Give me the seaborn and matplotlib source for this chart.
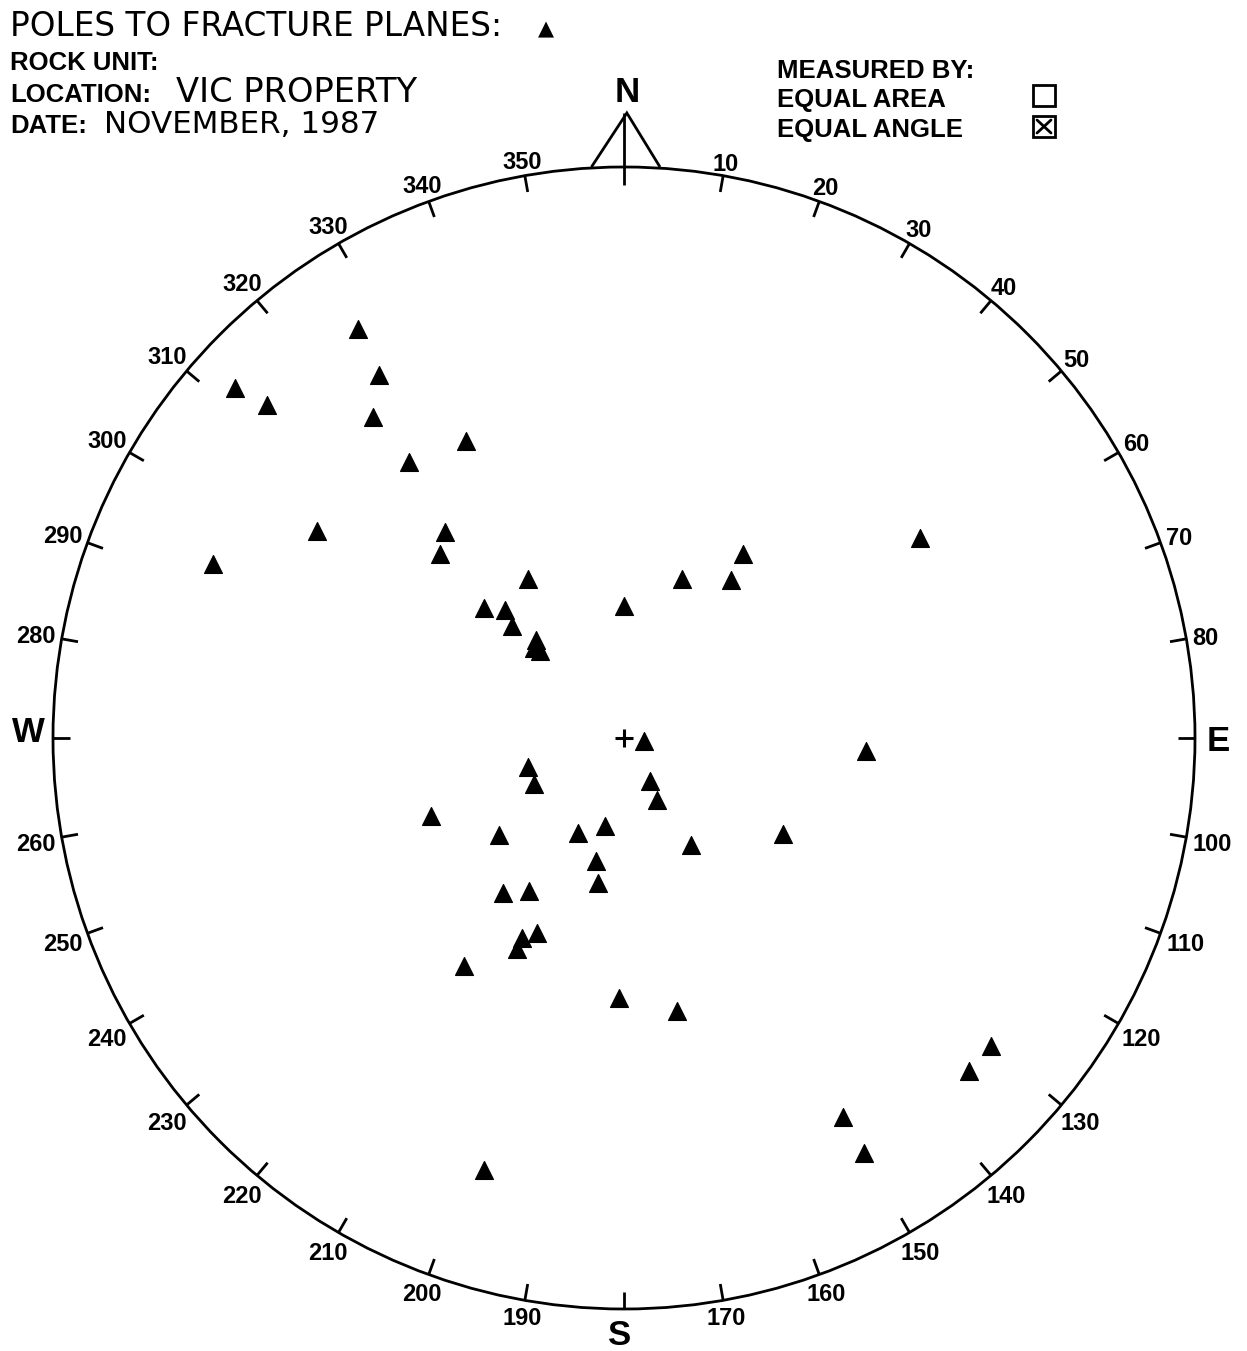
import numpy as np
import pandas as pd
import matplotlib
matplotlib.use("Agg")
import matplotlib.pyplot as plt
import seaborn as sns
from matplotlib.patches import Circle, Polygon, Rectangle
from matplotlib.lines import Line2D

# poles to fracture planes (degrees)
trend = [327, 326, 312, 313, 322, 332, 322, 304, 319, 315,
         293, 329, 20, 56, 33, 34, 313, 317, 315, 0,
         318, 315, 316, 99, 93, 253, 243, 149, 152, 248,
         232, 206, 192, 148, 121, 193, 218, 212, 190, 204,
         207, 207, 215, 181, 169, 198, 130, 134, 150, 150]
plunge = [9, 15, 5, 9, 19, 29, 27, 24, 39, 41,
          14, 54, 57, 26, 48, 53, 53, 56, 59, 64,
          64, 65, 66, 86, 44, 70, 70, 80, 76, 50,
          59, 69, 72, 65, 54, 65, 52, 55, 61, 49,
          47, 45, 38, 41, 38, 13, 10, 10, 15, 10]

azimuths = list(range(0, 360, 10))
compass = {0: "N", 90: "E", 180: "S", 270: "W"}

sns.set_style("white")
plt.rcParams["text.color"] = "black"
BOLD = ["Liberation Sans", "DejaVu Sans"]
THIN = ["DejaVu Sans"]
NARROW = ["Liberation Sans Narrow", "Liberation Sans", "DejaVu Sans"]

# equal angle (stereographic) lower hemisphere projection
df = pd.DataFrame({"trend": trend, "plunge": plunge})
r = np.tan(np.radians(90 - df["plunge"]) / 2)
df["x"] = r * np.sin(np.radians(df["trend"]))
df["y"] = r * np.cos(np.radians(df["trend"]))

W, H = 1247, 1351
cx, cy, R = 624, 738, 571

fig = plt.figure(figsize=(W / 100, H / 100), dpi=100)
ax = fig.add_axes([0, 0, 1, 1])
ax.set_xlim(-cx / R, (W - cx) / R)
ax.set_ylim((cy - H) / R, cy / R)
ax.axis("off")

# primitive circle and ticks
ax.add_patch(Circle((0, 0), 1, fill=False, lw=2.0, color="black"))
tick = 0.029
for az in azimuths:
    a = np.radians(az)
    r0 = 1 - tick - (0.003 if az == 0 else 0)
    r1 = 1.0946 if az == 0 else 1
    ax.plot([r0 * np.sin(a), r1 * np.sin(a)], [r0 * np.cos(a), r1 * np.cos(a)],
            color="black", lw=2.0, solid_capstyle="butt")
    if az in compass:
        continue
    label = str(az)
    half_w = 7 * len(label)
    rl = (R + 4 + half_w * abs(np.sin(a)) + 8 * abs(np.cos(a))) / R
    ax.text(rl * np.sin(a), rl * np.cos(a), label, ha="center",
            va="center_baseline", fontsize=17, fontweight="bold", family=BOLD)

# north arrow
ax.add_patch(Polygon([[-0.057, 1.0], [0.005, 1.0946], [0.063, 1.0]], closed=False,
                     fill=False, lw=2.0, color="black", joinstyle="miter"))

for (tx, ty), letter in zip([(0.005, 1.131), (1.040, -0.007), (-0.007, -1.046), (-1.044, 0.009)],
                            ["N", "E", "S", "W"]):
    ax.text(tx, ty, letter, ha="center", va="center", fontsize=25,
            fontweight="heavy", family=NARROW)

# centre mark and poles
ax.plot([0], [0], marker="+", ms=13, mew=2.2, color="black")
sns.scatterplot(data=df, x="x", y="y", marker="^", s=165, color="black",
                edgecolor="black", linewidth=0.9, ax=ax, legend=False, zorder=3)


def fx(px):
    return px / W


def fy(py):
    return 1 - py / H


# header block
fig.text(fx(10), fy(36), "POLES TO FRACTURE PLANES:", fontsize=23.5, family=THIN)
fig.text(fx(538), fy(35), "\u25B2", fontsize=15, family=THIN)
fig.text(fx(10), fy(70), "ROCK UNIT:", fontsize=18.5, fontweight="bold", family=BOLD)
fig.text(fx(10), fy(102), "LOCATION:", fontsize=18.5, fontweight="bold", family=BOLD)
fig.text(fx(176), fy(102), "VIC PROPERTY", fontsize=24.3, family=THIN)
fig.text(fx(10), fy(133), "DATE:", fontsize=18.5, fontweight="bold", family=BOLD)
fig.text(fx(104), fy(133), "NOVEMBER, 1987", fontsize=22.3, family=THIN)

fig.text(fx(777), fy(78), "MEASURED BY:", fontsize=18.5, fontweight="bold", family=BOLD)
fig.text(fx(777), fy(107), "EQUAL AREA", fontsize=18.5, fontweight="bold", family=BOLD)
fig.text(fx(777), fy(137), "EQUAL ANGLE", fontsize=18.5, fontweight="bold", family=BOLD)

for top in (85, 116):
    fig.add_artist(Rectangle((fx(1033), fy(top + 21)), 22 / W, 21 / H, fill=False,
                             lw=2.0, color="black", transform=fig.transFigure))
fig.add_artist(Line2D([fx(1037), fx(1051)], [fy(120), fy(133)], lw=2.0, color="black",
                      transform=fig.transFigure))
fig.add_artist(Line2D([fx(1051), fx(1037)], [fy(120), fy(133)], lw=2.0, color="black",
                      transform=fig.transFigure))

fig.savefig("out.png", dpi=100)
